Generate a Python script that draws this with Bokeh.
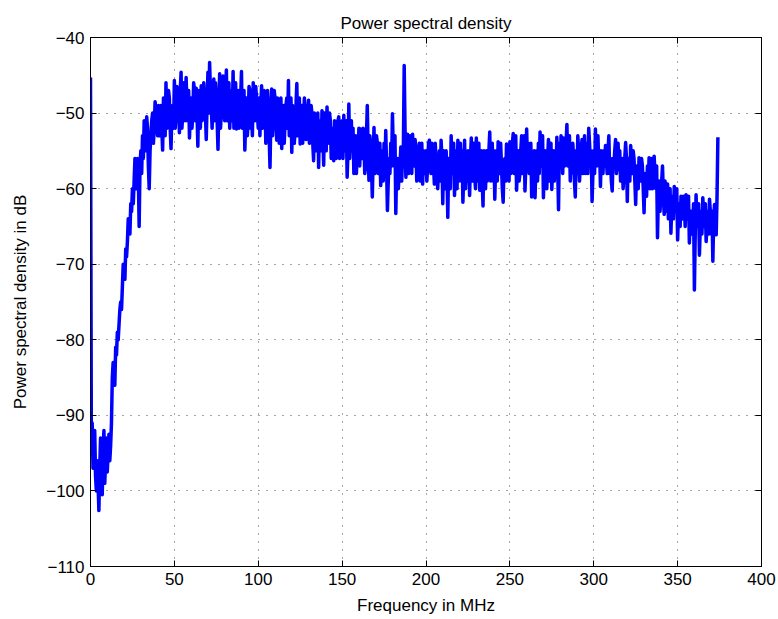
from bokeh.plotting import figure
from bokeh.models import Range1d, LinearAxis, FixedTicker
from bokeh.embed import file_html
from bokeh.resources import INLINE

# Frequency bins (MHz), one per MHz
freq_mhz = list(range(0, 375))

# Power spectral density in dB at each whole MHz
psd_db = [
    -45.3, -91, -95, -98, -96, -102.6, -93, -100.5, -92, -96,
    -97.5, -92.5, -94, -85, -84, -81, -79, -78, -75, -73,
    -71, -68, -67, -65, -62, -60, -59, -57, -56, -65,
    -55, -53, -51, -55, -52, -60, -53, -50, -52, -49.5,
    -53, -50, -49, -54.9, -50, -46, -51, -48, -54.7, -49,
    -45.7, -50, -48, -52.6, -44.6, -50, -48, -45.3, -51, -53.3,
    -48, -50, -47, -46.7, -54.4, -49, -46.4, -50, -48, -53.5,
    -44.6, -43.3, -49, -47, -51, -48, -54.8, -44.8, -50, -45.1,
    -51, -44.3, -49, -52, -47, -44.5, -49, -52.1, -47, -50,
    -44.5, -50, -54.9, -48, -51, -47, -50, -46, -51, -48,
    -52, -53, -46.4, -50, -48, -52, -49, -57.2, -46.8, -50,
    -48, -53.6, -49, -51, -54.7, -49, -51, -48, -45.7, -50,
    -55.2, -50, -52, -46.1, -51, -54.1, -49, -51, -50, -53,
    -48.3, -52, -50, -56.3, -51, -53, -57.2, -52, -49.7, -56.9,
    -51, -49.2, -53, -51, -55, -56.3, -52, -54, -50.5, -55,
    -51, -50.3, -54, -58.5, -48.8, -53, -55, -58, -53, -55,
    -52, -52.1, -56, -54, -57, -49, -58.9, -54, -61.1, -51.9,
    -56, -54, -57, -59.6, -55, -54, -52.3, -62.9, -56, -54,
    -50.1, -57, -63.3, -56, -58, -54.5, -56, -43.7, -58.5, -52.8,
    -56, -54, -52.8, -57, -55, -58, -54, -57, -59.4, -56,
    -55, -57, -53.6, -58, -55, -59.4, -56, -60, -55, -53.6,
    -62, -57, -55, -63.8, -58, -53, -56, -60.9, -55, -53.6,
    -57, -59, -61.8, -53.6, -57, -55, -60.9, -53.3, -56, -58,
    -53.3, -56, -60.2, -55, -62.3, -57, -55, -58, -52.5, -56,
    -59, -61.4, -55, -53.8, -58, -57, -61.8, -56, -54.1, -55.7,
    -53.8, -57, -52.7, -56, -60.2, -55, -58, -53, -56, -60.3,
    -52.1, -54, -57, -61.1, -56, -61.2, -55, -54, -52.5, -56,
    -61.2, -55, -60, -53.5, -57, -60.1, -55, -56, -53.2, -62.8,
    -57, -55, -53.3, -56, -51.5, -55, -59, -57.9, -56, -61.1,
    -58, -55, -57, -53.5, -56, -58, -55, -52, -57, -61.7,
    -55, -52.1, -55, -57, -59.7, -56, -55, -54.3, -58, -53,
    -56, -60.3, -57, -53.5, -56, -57.5, -59, -56, -58, -53.9,
    -61.7, -57, -54.3, -58, -56, -62.1, -58, -55.9, -59, -57,
    -63.2, -59, -57, -55.9, -58, -60, -55.7, -60, -66.5, -59,
    -61, -57, -63.4, -61, -59.4, -62, -65.9, -61, -59.7, -63,
    -66.8, -62, -61, -64, -62, -60.8, -64, -67.2, -63, -65,
    -73.4, -60.8, -64, -68.8, -63, -61.2, -65, -67, -63, -61.4,
    -66, -69.6, -62.1, -66.1, -53.2,
]

# Power spectral density in dB at the half-MHz bins (0.5, 1.5, ... 373.5)
psd_db_half = [
    -93, -97, -92, -100, -99, -97, -96, -95, -99, -93,
    -95, -96, -91, -83, -86, -82, -80, -76, -76, -70,
    -72, -69, -64, -66, -63, -62, -56, -60, -58, -57,
    -58, -56, -53, -50.5, -57, -55, -51, -54, -48.5, -51,
    -49, -53, -52, -48, -53, -52, -47, -52, -50, -52,
    -52, -46.5, -49, -47, -52, -46, -51, -49, -47, -50,
    -52, -46, -51, -50, -47, -52, -51, -46, -50, -49,
    -50, -47, -52, -45.5, -46, -51, -49, -52, -47, -49,
    -47, -51, -46, -49, -51, -52, -46, -49, -52, -48,
    -52, -47, -51, -53, -46.5, -52, -53, -49, -46.5, -50,
    -48, -49, -52, -47, -54, -47, -53, -51, -53, -47,
    -51, -48, -54, -48, -51, -54, -49, -52, -53, -48,
    -49, -54, -49, -53, -48, -50, -54, -48, -53.5, -50,
    -54, -49, -54, -50, -55, -50, -51, -55, -53, -50,
    -55, -54, -50, -56, -52, -51, -56, -51, -56, -53,
    -56, -55, -51, -55, -56, -51, -52, -55, -58, -56,
    -57, -55, -52, -58, -53, -55, -53, -57, -56, -58,
    -53, -58, -54, -56, -59, -58, -57, -59, -58, -57,
    -55, -53, -57, -60, -57, -59, -55, -52, -56, -58,
    -53, -58, -56, -53.5, -59, -55, -59, -54, -55, -58,
    -59, -54, -57, -54, -57, -54, -58, -57, -59, -56,
    -55, -60, -58, -56, -60, -58, -54, -57, -60, -59,
    -54, -55, -58, -60, -59, -57, -56, -59, -54, -60,
    -59, -54, -57, -59, -55, -60, -59, -55, -59, -54,
    -55, -57, -59, -56, -54, -60, -57, -59, -58, -59,
    -58, -54, -58, -53, -57, -59, -55, -58, -53, -57,
    -57, -58, -54, -58, -55, -57, -59, -58, -57, -53,
    -57, -58, -56, -59, -54, -57, -59, -58, -57, -54,
    -53, -58, -57, -54, -57, -53, -55, -54, -59, -55,
    -53, -59, -55, -58, -53, -54, -58, -54, -55, -58,
    -58, -57, -53, -55, -55, -58, -57, -56, -55, -58,
    -59, -56, -55, -58, -54, -55, -57, -60, -56, -56,
    -56, -59, -56, -55, -59, -57, -60, -57, -56, -60,
    -58, -61, -59, -60, -56, -58, -58, -57, -61, -63,
    -59, -61, -59, -63, -64, -60, -62, -64, -61, -60,
    -63, -65, -63, -61, -65, -63, -61, -64, -66, -62,
    -66, -65, -62, -65, -66, -63, -62, -65, -66, -63,
    -63, -64, -65, -61,
]

x_ticks = [0, 50, 100, 150, 200, 250, 300, 350, 400]
y_ticks = [-110, -100, -90, -80, -70, -60, -50, -40]
y_tick_labels = {v: ("\u2212" + str(-v)) if v < 0 else str(v) for v in y_ticks}

# Interleave whole and half MHz bins into one trace
trace_x, trace_y = [], []
for i in range(len(psd_db_half)):
    trace_x += [freq_mhz[i], freq_mhz[i] + 0.5]
    trace_y += [psd_db[i], psd_db_half[i]]
trace_x.append(freq_mhz[-1])
trace_y.append(psd_db[-1])

FONT = "Liberation Sans"
FS = "17px"

p = figure(width=778, height=619, output_backend="svg", toolbar_location=None,
           x_range=Range1d(0, 400), y_range=Range1d(-110, -40),
           x_axis_label="Frequency in MHz", y_axis_label="Power spectral density in dB",
           min_border_left=90, min_border_right=17, min_border_top=37, min_border_bottom=53)
p.background_fill_color = "white"
p.border_fill_color = "white"
p.outline_line_color = "black"
p.outline_line_width = 1

p.title.text = "Power spectral density"
p.title.align = "center"
p.title.text_font = FONT
p.title.text_font_size = FS
p.title.text_font_style = "normal"
p.title.text_color = "black"

for ax, ticks in ((p.xaxis[0], x_ticks), (p.yaxis[0], y_ticks)):
    ax.ticker = FixedTicker(ticks=ticks)
    ax.major_tick_in = 6
    ax.major_tick_out = 0
    ax.minor_tick_line_color = None
    ax.axis_line_color = "black"
    ax.major_tick_line_color = "black"
    ax.major_label_text_font = FONT
    ax.major_label_text_font_size = FS
    ax.major_label_text_color = "black"
    ax.axis_label_text_font = FONT
    ax.axis_label_text_font_size = FS
    ax.axis_label_text_font_style = "normal"
    ax.axis_label_text_color = "black"
p.yaxis[0].major_label_overrides = y_tick_labels
p.xaxis[0].major_label_standoff = 6
p.yaxis[0].major_label_standoff = 6
p.xaxis[0].axis_label_standoff = 8
p.yaxis[0].axis_label_standoff = 13

# Mirror ticks on top and right (MATLAB box style)
for loc, ticks in (("above", x_ticks), ("right", y_ticks)):
    ax = LinearAxis(ticker=FixedTicker(ticks=ticks))
    ax.major_tick_in = 6
    ax.major_tick_out = 0
    ax.minor_tick_line_color = None
    ax.major_label_text_font_size = "0px"
    ax.major_label_text_color = None
    ax.axis_line_color = "black"
    p.add_layout(ax, loc)

for g in (p.xgrid[0], p.ygrid[0]):
    g.grid_line_color = "black"
    g.grid_line_alpha = 0.7
    g.grid_line_dash = "1 7"
    g.grid_line_width = 1
p.xgrid[0].ticker = FixedTicker(ticks=x_ticks)
p.ygrid[0].ticker = FixedTicker(ticks=y_ticks)

p.line(trace_x, trace_y, line_color="#0000FF", line_width=3.5, line_join="round")

open("out.html", "w").write(file_html(p, INLINE))
